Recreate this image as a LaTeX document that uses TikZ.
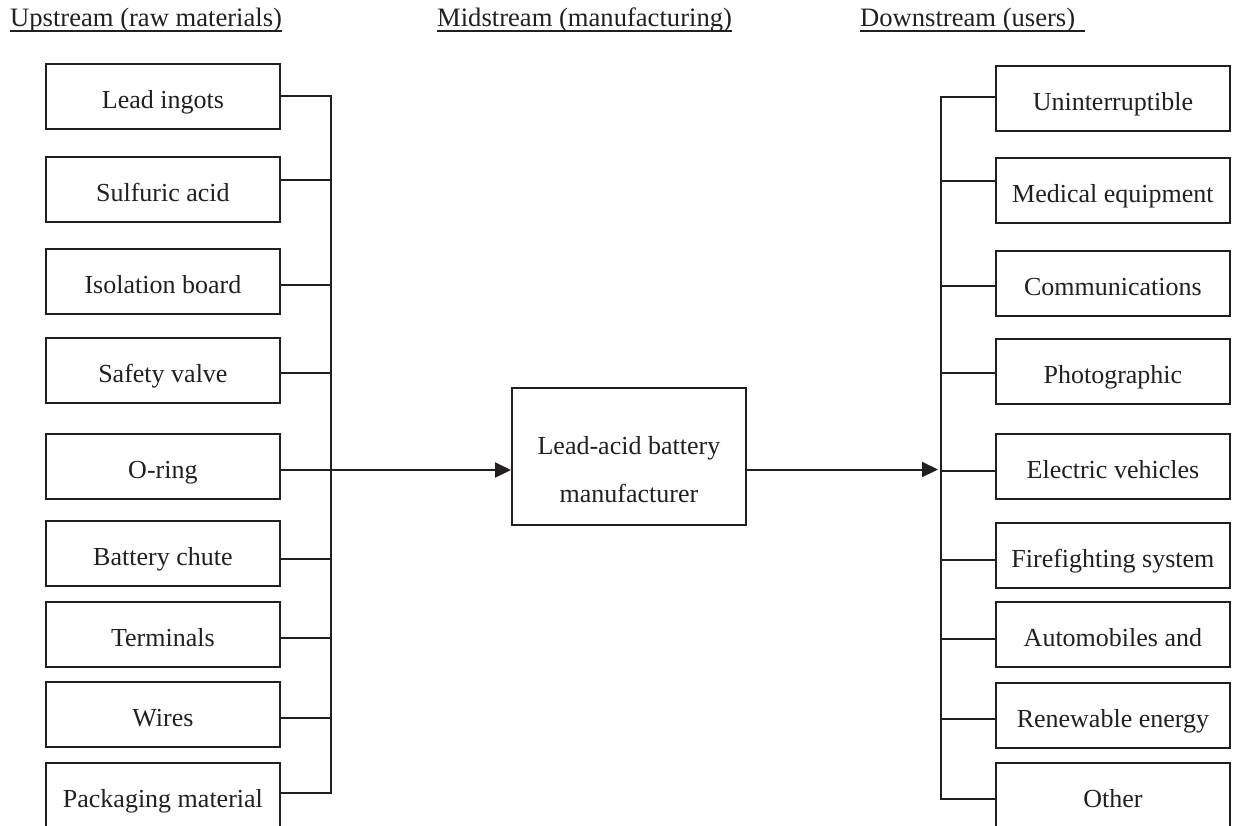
\documentclass[tikz,border=0pt]{standalone}
\usepackage{fontspec}
\setmainfont{Liberation Serif}
\usetikzlibrary{arrows.meta}
\definecolor{ink}{HTML}{231F20}
\begin{document}
\begin{tikzpicture}[x=1pt,y=-1pt,
  itembox/.style={draw=ink, line width=1.8pt, inner sep=0pt, minimum width=234pt,
    text height=45pt, text depth=20pt, anchor=north west,
    font=\fontsize{26}{31}\selectfont, text=ink},
  midbox/.style={draw=ink, line width=1.8pt, inner sep=0pt,
    text height=67pt, text depth=70pt, anchor=north west,
    font=\fontsize{26}{31}\selectfont, text=ink},
  link/.style={draw=ink, line width=1.8pt},
  flow/.style={draw=ink, line width=2pt, -{Triangle[length=16pt,width=15pt]}},
  head/.style={anchor=base west, font=\fontsize{26.6}{32}\selectfont, inner sep=0pt, text=ink},
  uline/.style={draw=ink, line width=1.6pt}]
\useasboundingbox (0,0) rectangle (1233,825);

% headers
\node[head] (h1) at (10,26) {Upstream (raw materials)};
\node[head] (h2) at (437,26) {Midstream (manufacturing)};
\node[head] (h3) at (860,26) {Downstream (users)};
\draw[uline] ([yshift=-5pt]h1.base west) -- ([yshift=-5pt]h1.base east);
\draw[uline] ([yshift=-5pt]h2.base west) -- ([yshift=-5pt]h2.base east);
\draw[uline] ([yshift=-5pt]h3.base west) -- ([xshift=10pt,yshift=-5pt]h3.base east);

% upstream boxes
\node[itembox] (l1) at (45,63)  {Lead ingots};
\node[itembox] (l2) at (45,156) {Sulfuric acid};
\node[itembox] (l3) at (45,248) {Isolation board};
\node[itembox] (l4) at (45,337) {Safety valve};
\node[itembox] (l5) at (45,433) {O-ring};
\node[itembox] (l6) at (45,520) {Battery chute};
\node[itembox] (l7) at (45,601) {Terminals};
\node[itembox] (l8) at (45,681) {Wires};
\node[itembox] (l9) at (45,762) {Packaging material};

% downstream boxes
\node[itembox] (r1) at (995,65)  {Uninterruptible};
\node[itembox] (r2) at (995,157) {Medical equipment};
\node[itembox] (r3) at (995,250) {Communications};
\node[itembox] (r4) at (995,338) {Photographic};
\node[itembox] (r5) at (995,433) {Electric vehicles};
\node[itembox] (r6) at (995,522) {Firefighting system};
\node[itembox] (r7) at (995,601) {Automobiles and};
\node[itembox] (r8) at (995,682) {Renewable energy};
\node[itembox] (r9) at (995,762) {Other};

% manufacturer
\node[midbox] (mfr) at (511,387) {\vtop{\baselineskip=48pt
  \hbox to 234pt{\hss Lead-acid battery\hss}
  \hbox to 234pt{\hss manufacturer\hss}}};

% left bus
\coordinate (L1) at (331,96);
\coordinate (L2) at (331,180);
\coordinate (L3) at (331,285);
\coordinate (L4) at (331,373);
\coordinate (L5) at (331,470);
\coordinate (L6) at (331,559);
\coordinate (L7) at (331,638);
\coordinate (L8) at (331,718);
\coordinate (L9) at (331,793);
\draw[link] (L1 -| l1.east) -- (L1) -- (L9) -- (L9 -| l9.east);
\foreach \i in {2,...,8} \draw[link] (L\i -| l\i.east) -- (L\i);

% right bus
\coordinate (R1) at (941,97);
\coordinate (R2) at (941,181);
\coordinate (R3) at (941,286);
\coordinate (R4) at (941,373);
\coordinate (R5) at (941,471);
\coordinate (R6) at (941,560);
\coordinate (R7) at (941,639);
\coordinate (R8) at (941,719);
\coordinate (R9) at (941,799);
\draw[link] (R1 -| r1.west) -- (R1) -- (R9) -- (R9 -| r9.west);
\foreach \i in {2,...,8} \draw[link] (R\i) -- (R\i -| r\i.west);

% arrows
\draw[flow] (L5) -- (L5 -| mfr.west);
\coordinate (rin) at (938,469.5);
\draw[flow] (mfr.east |- rin) -- (rin);
\end{tikzpicture}
\end{document}
